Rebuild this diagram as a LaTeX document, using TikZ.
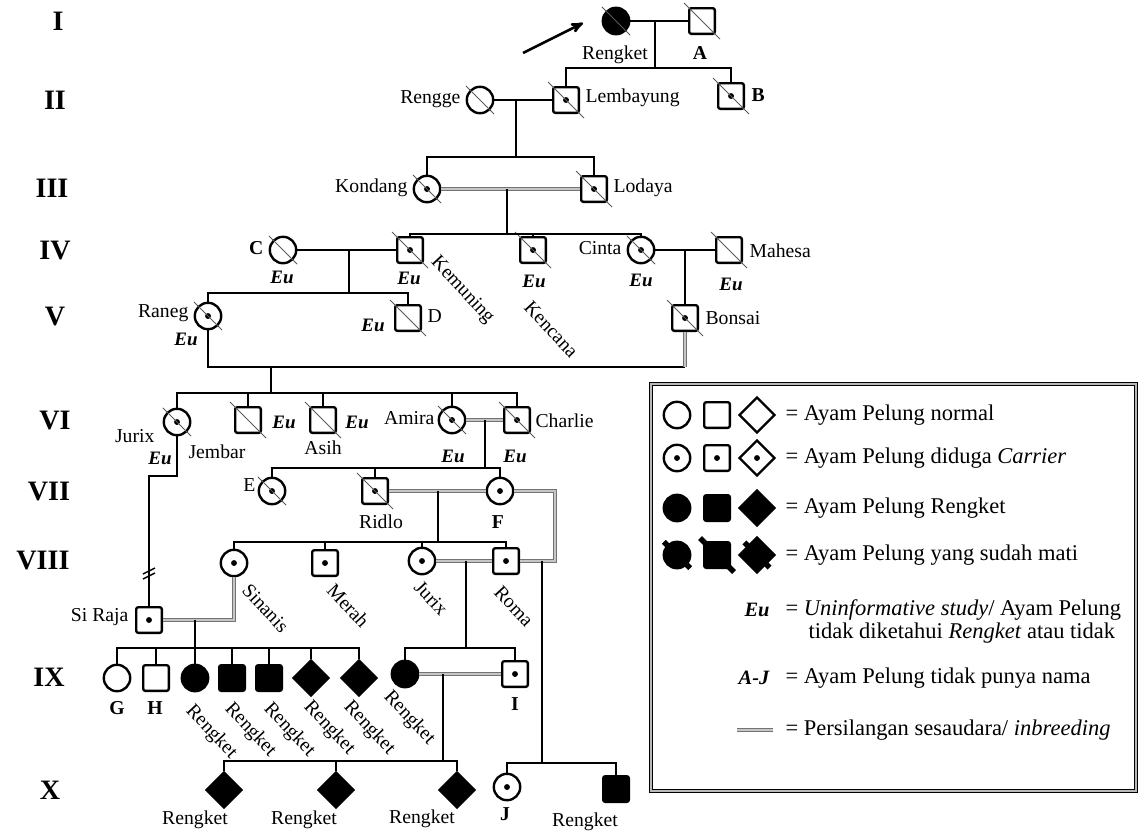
\documentclass[tikz,border=0pt]{standalone}
\usepackage{fontspec}
\setmainfont{Liberation Serif}
\usetikzlibrary{arrows,shapes.geometric,calc}
\newcommand{\mati}[1]{\draw[slash] ([shift={(-4,-4)}]#1.north west) -- ([shift={(4,4)}]#1.south east);}

\begin{document}
\begin{tikzpicture}[x=0.025cm, y=-0.025cm, line width=1.7pt,
    female/.style={draw, circle, minimum size=0.66cm, inner sep=0pt},
    male/.style={draw, rectangle, rounded corners=1.5pt, minimum size=0.64cm, inner sep=0pt},
    unknown/.style={draw, diamond, minimum size=0.9cm, inner sep=0pt},
    carrier/.style={path picture={\fill (path picture bounding box.center) circle (2.1pt);}},
    affected/.style={fill=black},
    inbred/.style={line width=0.8pt, draw=black!55, double=gray!45, double distance=1.8pt},
    slash/.style={line width=0.6pt, draw=black!65},
    lbl/.style={font=\fontsize{14}{16}\selectfont, inner sep=1pt},
    letter/.style={font=\fontsize{14}{16}\selectfont\bfseries, inner sep=1pt},
    eu/.style={font=\fontsize{13.5}{15}\selectfont\bfseries\itshape, inner sep=1pt},
    gen/.style={font=\fontsize{20}{22}\selectfont\bfseries},
    ket/.style={font=\fontsize{16}{18}\selectfont, anchor=west, inner sep=1pt},
    tilt/.style={lbl, rotate=-47, anchor=west}]
  \useasboundingbox (0,0) rectangle (1141,837);

  % generasi
  \node[gen] (r1) at (58,21) {I};
  \node[gen] (r2) at (55,100) {II};
  \node[gen] (r3) at (52,188) {III};
  \node[gen] (r4) at (55,250) {IV};
  \node[gen] (r5) at (55,316) {V};
  \node[gen] (r6) at (55,420) {VI};
  \node[gen] (r7) at (49,491) {VII};
  \node[gen] (r8) at (43,560) {VIII};
  \node[gen] (r9) at (49,677) {IX};
  \node[gen] (r10) at (50,790) {X};

  % I
  \node[female, affected] (g1_1) at (616,21) {};
  \node[male] (g1_2) at (702,21) {};
  \node[lbl] (t1_1) at (615,55) {Rengket};
  \node[letter] (t1_2) at (700,53) {A};
  \coordinate (p1) at (523,53);
  \coordinate (p2) at (583,23);
  \draw[->, >=stealth', line width=1.8pt] (p1) -- (p2);

  % II
  \node[female] (g2_1) at (480,100) {};
  \node[male, carrier] (g2_2) at (566,100) {};
  \node[male, carrier] (g2_3) at (731,96) {};
  \node[lbl, anchor=east] (t2_1) at (463,99) {Rengge};
  \node[lbl, anchor=west] (t2_2) at (583,98) {Lembayung};
  \node[letter, anchor=west] (t2_3) at (749,95) {B};

  % III
  \node[female, carrier] (g3_1) at (427,189) {};
  \node[male, carrier] (g3_2) at (594,189) {};
  \node[lbl, anchor=east] (t3_1) at (410,188) {Kondang};
  \node[lbl, anchor=west] (t3_2) at (611,188) {Lodaya};

  % IV
  \node[female] (g4_1) at (283,250) {};
  \node[male, carrier] (g4_2) at (410,250) {};
  \node[male, carrier] (g4_3) at (533,250) {};
  \node[female, carrier] (g4_4) at (641,250) {};
  \node[male] (g4_5) at (729,250) {};
  \node[letter, anchor=east] (t4_1) at (266,248) {C};
  \node[tilt] (t4_2) at (432,258) {Kemuning};
  \node[tilt] (t4_3) at (526,302) {Kencana};
  \node[lbl, anchor=east] (t4_4) at (624,248) {Cinta};
  \node[lbl, anchor=west] (t4_5) at (747,251) {Mahesa};
  \node[eu] (e4_1) at (282,277) {Eu};
  \node[eu] (e4_2) at (409,278) {Eu};
  \node[eu] (e4_3) at (534,281) {Eu};
  \node[eu] (e4_4) at (641,280) {Eu};
  \node[eu] (e4_5) at (731,284) {Eu};

  % V
  \node[female, carrier] (g5_1) at (208,316) {};
  \node[male] (g5_2) at (408,318) {};
  \node[male, carrier] (g5_3) at (685,318) {};
  \node[lbl, anchor=east] (t5_1) at (191,313) {Raneg};
  \node[lbl, anchor=west] (t5_2) at (425,316) {D};
  \node[lbl, anchor=west] (t5_3) at (703,318) {Bonsai};
  \node[eu] (e5_1) at (186,339) {Eu};
  \node[eu] (e5_2) at (373,325) {Eu};

  % VI
  \node[female, carrier] (g6_1) at (177,422) {};
  \node[male] (g6_2) at (248,420) {};
  \node[male] (g6_3) at (323,420) {};
  \node[female, carrier] (g6_4) at (452,420) {};
  \node[male, carrier] (g6_5) at (517,420) {};
  \node[lbl, anchor=east] (t6_1) at (157,436) {Jurix};
  \node[lbl] (t6_2) at (217,452) {Jembar};
  \node[lbl] (t6_3) at (323,448) {Asih};
  \node[lbl, anchor=east] (t6_4) at (437,418) {Amira};
  \node[lbl, anchor=west] (t6_5) at (533,421) {Charlie};
  \node[eu] (e6_1) at (160,458) {Eu};
  \node[eu] (e6_2) at (284,422) {Eu};
  \node[eu] (e6_3) at (357,422) {Eu};
  \node[eu] (e6_4) at (453,456) {Eu};
  \node[eu] (e6_5) at (515,456) {Eu};

  % VII
  \node[female, carrier] (g7_1) at (272,491) {};
  \node[male, carrier] (g7_2) at (375,491) {};
  \node[female, carrier] (g7_3) at (500,491) {};
  \node[lbl, anchor=east] (t7_1) at (258,485) {E};
  \node[lbl] (t7_2) at (381,522) {Ridlo};
  \node[letter] (t7_3) at (498,522) {F};

  % VIII
  \node[female, carrier] (g8_1) at (234,563) {};
  \node[male, carrier] (g8_2) at (325,563) {};
  \node[female, carrier] (g8_3) at (422,561) {};
  \node[male, carrier] (g8_4) at (506,561) {};
  \node[male, carrier] (g8_5) at (149,620) {};
  \node[tilt] (t8_1) at (244,585) {Sinanis};
  \node[tilt] (t8_2) at (329,585) {Merah};
  \node[tilt] (t8_3) at (416,582) {Jurix};
  \node[tilt] (t8_4) at (496,587) {Roma};
  \node[lbl, anchor=east] (t8_5) at (131,617) {Si Raja};

  % IX
  \node[female] (g9_1) at (117,678) {};
  \node[male] (g9_2) at (156,678) {};
  \node[female, affected] (g9_3) at (195,678) {};
  \node[male, affected] (g9_4) at (232,678) {};
  \node[male, affected] (g9_5) at (269,678) {};
  \node[unknown, affected] (g9_6) at (311,678) {};
  \node[unknown, affected] (g9_7) at (359,678) {};
  \node[female, affected] (g9_8) at (405,674) {};
  \node[male, carrier] (g9_9) at (515,674) {};
  \node[letter] (t9_1) at (117,708) {G};
  \node[letter] (t9_2) at (155,708) {H};
  \node[tilt] (t9_3) at (187,706) {Rengket};
  \node[tilt] (t9_4) at (226,704) {Rengket};
  \node[tilt] (t9_5) at (265,704) {Rengket};
  \node[tilt] (t9_6) at (305,702) {Rengket};
  \node[tilt] (t9_7) at (345,702) {Rengket};
  \node[tilt] (t9_8) at (385,692) {Rengket};
  \node[letter] (t9_9) at (515,704) {I};

  % X
  \node[unknown, affected] (g10_1) at (224,790) {};
  \node[unknown, affected] (g10_2) at (336,790) {};
  \node[unknown, affected] (g10_3) at (457,790) {};
  \node[female, carrier] (g10_4) at (507,787) {};
  \node[male, affected] (g10_5) at (616,789) {};
  \node[lbl] (t10_1) at (195,820) {Rengket};
  \node[lbl] (t10_2) at (304,820) {Rengket};
  \node[lbl] (t10_3) at (422,819) {Rengket};
  \node[letter] (t10_4) at (505,814) {J};
  \node[lbl] (t10_5) at (585,822) {Rengket};

  \foreach \n in {g1_1,g1_2,g2_1,g2_2,g2_3,g3_1,g3_2,g4_1,g4_2,g4_3,g4_4,g4_5,
                  g5_1,g5_2,g5_3,g6_1,g6_2,g6_3,g6_4,g6_5,g7_1,g7_2}
    \mati{\n};

  % garis keturunan
  \coordinate (k1) at (655,21);
  \coordinate (s1) at (655,68);
  \draw (g1_1) -- (g1_2);
  \draw (k1) -- (s1);
  \draw (g2_2) |- (s1) -| (g2_3);

  \coordinate (k2) at (516,100);
  \coordinate (s2) at (516,157);
  \draw (g2_1) -- (g2_2);
  \draw (k2) -- (s2);
  \draw (g3_1) |- (s2) -| (g3_2);

  \coordinate (k3) at (507,189);
  \coordinate (s3) at (507,234);
  \draw[inbred] (g3_1) -- (g3_2);
  \draw (k3) -- (s3);
  \draw (g4_2) |- (s3) -| (g4_4);
  \draw (g4_3) -- (g4_3 |- s3);

  \coordinate (k4) at (349,250);
  \coordinate (s4) at (349,293);
  \coordinate (k5) at (685,250);
  \draw (g4_1) -- (g4_2);
  \draw (k4) -- (s4);
  \draw (g5_1) |- (s4) -| (g5_2);
  \draw (g4_4) -- (g4_5);
  \draw (k5) -- (g5_3);

  \coordinate (k6) at (271,367);
  \coordinate (c6) at (685,367);
  \coordinate (s6) at (271,393);
  \draw (g5_1) |- (c6);
  \draw[inbred] (c6) -- (g5_3);
  \draw (k6) -- (s6);
  \draw (g6_1) |- (s6) -| (g6_5);
  \draw (g6_2) -- (g6_2 |- s6);
  \draw (g6_3) -- (g6_3 |- s6);
  \draw (g6_4) -- (g6_4 |- s6);

  \coordinate (k7) at (485,420);
  \coordinate (s7) at (485,468);
  \coordinate (c7) at (149,476);
  \coordinate (b1) at (149,572);
  \draw[inbred] (g6_4) -- (g6_5);
  \draw (k7) -- (s7);
  \draw (g7_1) |- (s7) -| (g7_3);
  \draw (g7_2) -- (g7_2 |- s7);
  \draw (g6_1) |- (c7) -- (g8_5);
  \draw[line width=1pt] ($(b1)+(-6,2)$) -- ($(b1)+(6,-4)$);
  \draw[line width=1pt] ($(b1)+(-6,7)$) -- ($(b1)+(6,1)$);

  \coordinate (k8) at (438,491);
  \coordinate (s8) at (438,542);
  \coordinate (c8a) at (555,491);
  \coordinate (c8b) at (555,561);
  \coordinate (k9) at (542,561);
  \coordinate (s9) at (542,763);
  \draw[inbred] (g7_2) -- (g7_3);
  \draw[inbred] (g7_3) -- (c8a) -- (c8b) -- (g8_4);
  \draw (k8) -- (s8);
  \draw (g8_1) |- (s8) -| (g8_4);
  \draw (g8_2) -- (g8_2 |- s8);
  \draw (g8_3) -- (g8_3 |- s8);
  \draw (k9) -- (s9);
  \draw (g10_4) |- (s9) -| (g10_5);

  \coordinate (k10) at (466,561);
  \coordinate (s10) at (466,648);
  \coordinate (c10) at (234,620);
  \coordinate (k11) at (195,620);
  \coordinate (s11) at (195,648);
  \draw[inbred] (g8_3) -- (g8_4);
  \draw[inbred] (g8_5) -- (c10) -- (g8_1);
  \draw (k10) -- (s10);
  \draw (g9_8) |- (s10) -| (g9_9);
  \draw (k11) -- (s11);
  \draw (g9_1) |- (s11) -| (g9_7);
  \foreach \n in {2,...,6}
    \draw (g9_\n) -- (g9_\n |- s11);

  \coordinate (k12) at (443,674);
  \coordinate (s12) at (443,761);
  \draw[inbred] (g9_8) -- (g9_9);
  \draw (k12) -- (s12);
  \draw (g10_1) |- (s12) -| (g10_3);
  \draw (g10_2) -- (g10_2 |- s12);

  % keterangan
  \coordinate (l0a) at (651,384);
  \coordinate (l0b) at (1136,791);
  \draw[line width=1pt, double=gray!55, double distance=1.5pt] (l0a) rectangle (l0b);
  \node[female] (l1_1) at (677,415) {};
  \node[male] (l1_2) at (717,415) {};
  \node[unknown] (l1_3) at (757,415) {};
  \node[ket] (k_1) at (783,415) {= Ayam Pelung normal};
  \node[female, carrier] (l2_1) at (677,458) {};
  \node[male, carrier] (l2_2) at (717,458) {};
  \node[unknown, carrier] (l2_3) at (757,458) {};
  \node[ket] (k_2) at (783,458) {= Ayam Pelung diduga \textit{Carrier}};
  \node[female, affected] (l3_1) at (677,508) {};
  \node[male, affected] (l3_2) at (717,508) {};
  \node[unknown, affected] (l3_3) at (757,508) {};
  \node[ket] (k_3) at (783,508) {= Ayam Pelung Rengket};
  \node[female, affected] (l4_1) at (677,555) {};
  \node[male, affected] (l4_2) at (717,555) {};
  \node[unknown, affected] (l4_3) at (757,555) {};
  \foreach \n in {l4_1,l4_2,l4_3}
    \draw[line width=4pt] ([shift={(-3,-3)}]\n.north west) -- ([shift={(3,3)}]\n.south east);
  \node[ket] (k_4) at (783,555) {= Ayam Pelung yang sudah mati};
  \node[eu, font=\fontsize{14.5}{16}\selectfont\bfseries\itshape] (l5_1) at (757,610) {Eu};
  \node[ket] (k_5) at (783,610) {= \textit{Uninformative study}/ Ayam Pelung};
  \node[ket] (k_6) at (806,633) {tidak diketahui \textit{Rengket} atau tidak};
  \node[eu, font=\fontsize{14.5}{16}\selectfont\bfseries\itshape] (l6_1) at (754,678) {A-J};
  \node[ket] (k_7) at (783,678) {= Ayam Pelung tidak punya nama};
  \coordinate (l7a) at (737,730);
  \coordinate (l7b) at (773,730);
  \draw[inbred] (l7a) -- (l7b);
  \node[ket] (k_8) at (783,730) {= Persilangan sesaudara/ \textit{inbreeding}};
\end{tikzpicture}
\end{document}
